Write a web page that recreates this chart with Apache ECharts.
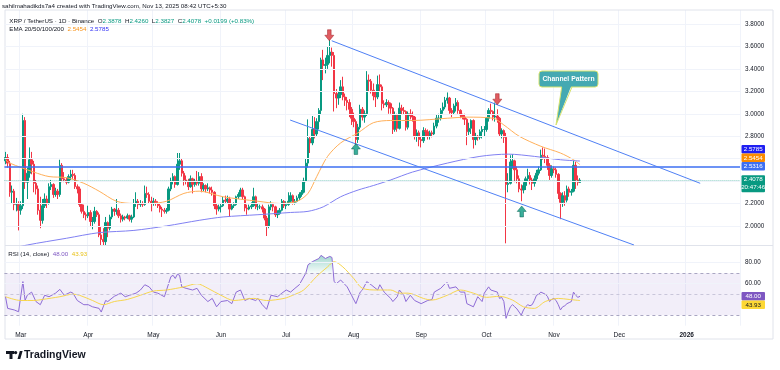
<!DOCTYPE html>
<html><head><meta charset="utf-8">
<script src="https://cdn.jsdelivr.net/npm/echarts@6/dist/echarts.min.js"></script>
<style>html,body{margin:0;padding:0;background:#fff}#c{width:780px;height:370px}</style>
</head><body><div id="c"></div>
<script>
// ---------------- DATA ----------------
const startDay = '2025-02-22';
const totalDays = 338; // visible time-axis slots (incl. empty future space)
const opens = [
2.58,2.61,2.56,2.30,2.31,2.19,2.19,2.14,2.18,2.94,
2.39,2.47,2.59,2.55,2.38,2.33,2.14,2.05,2.18,2.24,
2.20,2.35,2.37,2.28,2.31,2.28,2.54,2.42,2.41,2.39,
2.44,2.46,2.45,2.35,2.33,2.19,2.13,2.10,2.09,2.12,
2.04,2.04,2.13,2.10,1.92,1.88,1.86,2.03,1.98,2.08,
2.15,2.13,2.14,2.09,2.06,2.08,2.07,2.09,2.06,2.08,
2.20,2.22,2.19,2.20,2.19,2.29,2.28,2.22,2.20,2.22,
2.20,2.18,2.15,2.14,2.13,2.14,2.33,2.40,2.44,2.37,
2.55,2.58,2.47,2.41,2.40,2.35,2.42,2.37,2.40,2.38,
2.44,2.33,2.36,2.33,2.34,2.32,2.30,2.18,2.15,2.17,
2.18,2.23,2.22,2.24,2.15,2.18,2.19,2.26,2.28,2.32,
2.26,2.16,2.15,2.17,2.18,2.26,2.17,2.17,2.17,2.15,
2.07,2.00,2.17,2.19,2.17,2.10,2.11,2.14,2.22,2.18,
2.19,2.22,2.27,2.21,2.22,2.25,2.28,2.30,2.40,2.56,
2.78,2.74,2.86,2.82,2.93,3.03,3.48,3.43,3.44,3.52,
3.55,3.52,3.18,3.14,3.17,3.24,3.15,3.12,3.10,3.04,
2.96,2.93,2.77,2.88,3.04,2.97,3.00,3.30,3.29,3.21,
3.16,3.15,3.26,3.24,3.09,3.08,3.10,3.09,3.05,2.86,
2.99,2.87,3.05,3.03,3.02,2.88,3.00,2.98,2.97,2.80,
2.83,2.77,2.76,2.85,2.84,2.80,2.83,2.82,2.89,2.96,
2.96,3.03,3.06,3.12,3.14,3.03,3.01,3.07,3.10,3.03,
2.99,2.97,2.95,2.84,2.87,2.94,2.77,2.80,2.79,2.84,
2.86,2.86,2.96,3.03,3.02,2.97,2.98,2.96,2.82,2.85,
2.79,2.37,2.38,2.57,2.58,2.50,2.42,2.33,2.32,2.36,
2.42,2.45,2.41,2.38,2.42,2.47,2.50,2.63,2.62,2.61,
2.54,2.45,2.51,2.50,2.46,2.29,2.21,2.27,2.23,2.33,
2.30,2.31,2.54,2.41,2.3878];
const closes = [
2.61,2.56,2.30,2.31,2.19,2.19,2.14,2.18,2.94,2.39,
2.47,2.59,2.55,2.38,2.33,2.14,2.05,2.18,2.24,2.20,
2.35,2.37,2.28,2.31,2.28,2.54,2.42,2.41,2.39,2.44,
2.46,2.45,2.35,2.33,2.19,2.13,2.10,2.09,2.12,2.04,
2.04,2.13,2.10,1.92,1.88,1.86,2.03,1.98,2.08,2.15,
2.13,2.14,2.09,2.06,2.08,2.07,2.09,2.06,2.08,2.20,
2.22,2.19,2.20,2.19,2.29,2.28,2.22,2.20,2.22,2.20,
2.18,2.15,2.14,2.13,2.14,2.33,2.40,2.44,2.37,2.55,
2.58,2.47,2.41,2.40,2.35,2.42,2.37,2.40,2.38,2.44,
2.33,2.36,2.33,2.34,2.32,2.30,2.18,2.15,2.17,2.18,
2.23,2.22,2.24,2.15,2.18,2.19,2.26,2.28,2.32,2.26,
2.16,2.15,2.17,2.18,2.26,2.17,2.17,2.17,2.15,2.07,
2.00,2.17,2.19,2.17,2.10,2.11,2.14,2.22,2.18,2.19,
2.22,2.27,2.21,2.22,2.25,2.28,2.30,2.40,2.56,2.78,
2.74,2.86,2.82,2.93,3.03,3.48,3.43,3.44,3.52,3.55,
3.52,3.18,3.14,3.17,3.24,3.15,3.12,3.10,3.04,2.96,
2.93,2.77,2.88,3.04,2.97,3.00,3.30,3.29,3.21,3.16,
3.15,3.26,3.24,3.09,3.08,3.10,3.09,3.05,2.86,2.99,
2.87,3.05,3.03,3.02,2.88,3.00,2.98,2.97,2.80,2.83,
2.77,2.76,2.85,2.84,2.80,2.83,2.82,2.89,2.96,2.96,
3.03,3.06,3.12,3.14,3.03,3.01,3.07,3.10,3.03,2.99,
2.97,2.95,2.84,2.87,2.94,2.77,2.80,2.79,2.84,2.86,
2.86,2.96,3.03,3.02,2.97,2.98,2.96,2.82,2.85,2.79,
2.37,2.38,2.57,2.58,2.50,2.42,2.33,2.32,2.36,2.42,
2.45,2.41,2.38,2.42,2.47,2.50,2.63,2.62,2.61,2.54,
2.45,2.51,2.50,2.46,2.29,2.21,2.27,2.23,2.33,2.30,
2.31,2.54,2.41,2.3879,2.4078];
const highs = [
2.66,2.64,2.58,2.36,2.33,2.25,2.22,2.22,3.00,2.97,
2.52,2.70,2.66,2.58,2.41,2.36,2.26,2.24,2.29,2.27,
2.38,2.41,2.38,2.34,2.33,2.59,2.56,2.48,2.43,2.46,
2.50,2.50,2.47,2.37,2.35,2.20,2.19,2.12,2.18,2.14,
2.08,2.17,2.14,2.12,1.99,1.98,2.08,2.04,2.10,2.17,
2.16,2.24,2.16,2.11,2.10,2.09,2.11,2.10,2.10,2.24,
2.30,2.24,2.23,2.22,2.36,2.35,2.30,2.26,2.25,2.24,
2.22,2.20,2.17,2.16,2.16,2.35,2.43,2.47,2.45,2.65,
2.65,2.60,2.49,2.45,2.42,2.45,2.43,2.42,2.49,2.48,
2.47,2.38,2.37,2.38,2.35,2.35,2.31,2.20,2.19,2.20,
2.26,2.27,2.27,2.26,2.20,2.21,2.27,2.30,2.34,2.34,
2.27,2.19,2.19,2.21,2.34,2.27,2.20,2.19,2.19,2.16,
2.09,2.19,2.22,2.20,2.18,2.14,2.16,2.24,2.23,2.22,
2.30,2.30,2.28,2.24,2.27,2.30,2.32,2.43,2.60,2.95,
2.80,2.98,2.97,2.96,3.05,3.50,3.57,3.50,3.60,3.66,
3.59,3.55,3.22,3.20,3.30,3.33,3.18,3.15,3.13,3.06,
3.01,2.95,2.91,3.08,3.06,3.03,3.38,3.35,3.31,3.27,
3.20,3.34,3.35,3.26,3.12,3.13,3.12,3.10,3.06,3.02,
3.00,3.10,3.08,3.06,3.03,3.02,3.04,3.02,2.98,2.86,
2.85,2.80,2.88,2.87,2.86,2.85,2.85,2.92,2.99,3.00,
3.05,3.10,3.15,3.19,3.15,3.05,3.09,3.14,3.12,3.04,
3.00,3.00,2.96,2.92,2.95,2.95,2.83,2.81,2.86,2.89,
2.89,2.97,3.05,3.09,3.03,3.10,3.04,2.97,2.87,2.86,
2.83,2.47,2.63,2.64,2.59,2.53,2.45,2.37,2.39,2.44,
2.51,2.48,2.43,2.45,2.50,2.53,2.68,2.70,2.69,2.63,
2.56,2.54,2.53,2.52,2.47,2.30,2.30,2.31,2.36,2.35,
2.33,2.58,2.57,2.45,2.4260];
const lows = [
2.55,2.52,2.26,2.20,2.14,2.13,1.96,2.10,2.15,2.33,
2.24,2.43,2.46,2.30,2.28,2.10,1.98,2.02,2.16,2.16,
2.19,2.32,2.25,2.26,2.24,2.26,2.39,2.39,2.37,2.38,
2.41,2.42,2.33,2.29,2.17,2.11,2.07,2.05,2.07,1.99,
1.97,2.02,2.08,1.90,1.83,1.83,1.83,1.90,1.96,2.06,
2.09,2.10,2.07,2.03,2.04,2.05,2.06,2.04,2.03,2.07,
2.17,2.15,2.17,2.17,2.18,2.25,2.20,2.13,2.18,2.18,
2.16,2.12,2.08,2.11,2.11,2.13,2.31,2.37,2.34,2.36,
2.50,2.44,2.36,2.37,2.32,2.34,2.29,2.35,2.36,2.36,
2.30,2.31,2.30,2.31,2.29,2.27,2.15,2.10,2.13,2.12,
2.17,2.20,2.20,2.08,2.14,2.16,2.18,2.24,2.26,2.24,
2.13,2.10,2.14,2.15,2.17,2.15,2.14,2.15,2.12,2.05,
1.91,1.98,2.14,2.13,2.08,2.07,2.10,2.13,2.16,2.15,
2.18,2.20,2.19,2.19,2.21,2.23,2.26,2.29,2.39,2.52,
2.65,2.72,2.78,2.80,2.86,2.99,3.30,3.36,3.40,3.45,
3.42,3.02,3.05,3.08,3.14,3.12,3.07,3.03,2.97,2.90,
2.88,2.72,2.74,2.86,2.94,2.92,2.98,3.20,3.18,3.12,
3.06,3.13,3.20,3.03,3.05,3.06,3.00,3.00,2.82,2.84,
2.84,2.86,2.99,2.99,2.85,2.86,2.95,2.93,2.77,2.75,
2.71,2.70,2.74,2.80,2.77,2.77,2.79,2.81,2.87,2.92,
2.94,3.00,3.04,3.09,3.00,2.97,2.99,3.02,3.00,2.96,
2.95,2.90,2.72,2.81,2.82,2.69,2.72,2.76,2.77,2.78,
2.80,2.84,2.93,2.99,2.94,2.93,2.92,2.80,2.78,2.74,
1.845,2.30,2.37,2.51,2.39,2.38,2.30,2.22,2.29,2.32,
2.40,2.37,2.32,2.35,2.40,2.45,2.49,2.59,2.56,2.50,
2.41,2.43,2.47,2.43,2.24,2.06,2.17,2.18,2.21,2.26,
2.27,2.30,2.33,2.36,2.3827];

const ema50 = [['2025-02-22',2.59],['2025-02-24',2.56],['2025-03-07',2.48],['2025-03-14',2.44],['2025-03-22',2.43],['2025-03-30',2.38],['2025-04-06',2.31],['2025-04-14',2.22],['2025-04-22',2.20],['2025-04-29',2.20],['2025-05-07',2.22],['2025-05-15',2.29],['2025-05-22',2.31],['2025-06-02',2.26],['2025-06-18',2.22],['2025-06-28',2.20],['2025-07-06',2.22],['2025-07-11',2.29],['2025-07-15',2.44],['2025-07-20',2.62],['2025-07-26',2.74],['2025-08-03',2.83],['2025-08-10',2.92],['2025-08-18',2.94],['2025-08-28',2.94],['2025-09-13',2.96],['2025-09-22',2.97],['2025-10-04',2.96],['2025-10-09',2.90],['2025-10-16',2.80],['2025-10-26',2.71],['2025-11-04',2.65],['2025-11-10',2.59],['2025-11-13',2.5454]];
const ema200 = [['2025-02-22',1.785],['2025-03-04',1.83],['2025-03-22',1.89],['2025-04-06',1.94],['2025-04-22',1.96],['2025-05-07',2.00],['2025-05-22',2.05],['2025-06-02',2.08],['2025-06-18',2.10],['2025-07-03',2.12],['2025-07-11',2.13],['2025-07-18',2.17],['2025-07-26',2.26],['2025-08-03',2.32],['2025-08-10',2.36],['2025-08-18',2.41],['2025-08-28',2.48],['2025-09-13',2.56],['2025-09-28',2.62],['2025-10-11',2.64],['2025-10-23',2.62],['2025-11-04',2.59],['2025-11-13',2.5785]];

const rsi = [['2025-02-22',47.6],['2025-02-23',36.5],['2025-02-26',35],['2025-02-28',33.3],['2025-03-02',62],['2025-03-03',44],['2025-03-04',49],['2025-03-06',52],['2025-03-08',43],['2025-03-10',40],['2025-03-12',49],['2025-03-14',47.6],['2025-03-17',51],['2025-03-19',54.6],['2025-03-21',49],['2025-03-24',52],['2025-03-25',51],['2025-03-27',44],['2025-03-30',40],['2025-04-01',40],['2025-04-03',38],['2025-04-06',36.5],['2025-04-07',33],['2025-04-09',44],['2025-04-10',43],['2025-04-13',48],['2025-04-16',51],['2025-04-18',47.6],['2025-04-20',49],['2025-04-23',51],['2025-04-25',54],['2025-04-27',59],['2025-04-29',57],['2025-05-01',52],['2025-05-03',51],['2025-05-06',47.6],['2025-05-07',54],['2025-05-09',66.7],['2025-05-10',68],['2025-05-11',65],['2025-05-12',69],['2025-05-13',68],['2025-05-14',57],['2025-05-16',55.6],['2025-05-19',54],['2025-05-21',55.6],['2025-05-23',49],['2025-05-26',43],['2025-05-28',46],['2025-05-30',38],['2025-06-01',43],['2025-06-04',44],['2025-06-06',41],['2025-06-08',52],['2025-06-10',54],['2025-06-12',44],['2025-06-14',46],['2025-06-17',44],['2025-06-18',46],['2025-06-20',40],['2025-06-22',35.6],['2025-06-24',49],['2025-06-27',47.6],['2025-06-29',51],['2025-07-01',54],['2025-07-03',52],['2025-07-05',55.6],['2025-07-07',59],['2025-07-10',70],['2025-07-11',78],['2025-07-13',81],['2025-07-16',84],['2025-07-17',87],['2025-07-19',84],['2025-07-21',86],['2025-07-22',85],['2025-07-23',62],['2025-07-24',60],['2025-07-26',63.5],['2025-07-29',57],['2025-07-31',49],['2025-08-02',41],['2025-08-04',52],['2025-08-05',54],['2025-08-07',62],['2025-08-09',59],['2025-08-12',54],['2025-08-13',59],['2025-08-15',52],['2025-08-18',46],['2025-08-19',43],['2025-08-21',47.6],['2025-08-22',54],['2025-08-24',49],['2025-08-25',43],['2025-08-27',49],['2025-08-29',44],['2025-09-01',41],['2025-09-04',44],['2025-09-06',45],['2025-09-07',52],['2025-09-10',55.6],['2025-09-12',60],['2025-09-13',61],['2025-09-14',55.6],['2025-09-17',57],['2025-09-19',52],['2025-09-21',52],['2025-09-22',41],['2025-09-25',38],['2025-09-27',47.6],['2025-09-29',43],['2025-09-30',51],['2025-10-02',57],['2025-10-03',54],['2025-10-06',52],['2025-10-07',46],['2025-10-08',47],['2025-10-09',43],['2025-10-10',27],['2025-10-11',33],['2025-10-12',38],['2025-10-13',40],['2025-10-14',38],['2025-10-15',36],['2025-10-16',33],['2025-10-17',30],['2025-10-18',35],['2025-10-19',38],['2025-10-20',40],['2025-10-21',39],['2025-10-22',40],['2025-10-23',44],['2025-10-24',49],['2025-10-25',50],['2025-10-26',52],['2025-10-27',51],['2025-10-28',50],['2025-10-29',48],['2025-10-30',43],['2025-10-31',45],['2025-11-01',46],['2025-11-02',44],['2025-11-03',40],['2025-11-04',35],['2025-11-05',38],['2025-11-06',39],['2025-11-07',41],['2025-11-08',42],['2025-11-09',43],['2025-11-10',52],['2025-11-11',49],['2025-11-12',47],['2025-11-13',48]];
const rsiMA = [['2025-02-22',47.6],['2025-03-01',44],['2025-03-07',44],['2025-03-11',45],['2025-03-19',47.6],['2025-03-25',50],['2025-03-28',49],['2025-04-03',44],['2025-04-08',40],['2025-04-13',43],['2025-04-19',45],['2025-04-25',49],['2025-05-01',53],['2025-05-07',54],['2025-05-15',57],['2025-05-21',60],['2025-05-26',55.6],['2025-06-01',49],['2025-06-07',44],['2025-06-16',46],['2025-06-22',44],['2025-06-30',46],['2025-07-04',49],['2025-07-09',54],['2025-07-15',67],['2025-07-20',76],['2025-07-23',81],['2025-07-27',76],['2025-08-01',65],['2025-08-05',55.6],['2025-08-12',54],['2025-08-18',54],['2025-08-22',51],['2025-08-26',51],['2025-09-02',46],['2025-09-06',44.4],['2025-09-13',49],['2025-09-19',54],['2025-09-25',51],['2025-10-01',47],['2025-10-07',48],['2025-10-13',44.4],['2025-10-18',38],['2025-10-23',36.5],['2025-10-28',43],['2025-11-03',46],['2025-11-08',45],['2025-11-13',43.93]];

const priceTicks = [2.0,2.2,2.4,2.6,2.8,3.0,3.2,3.4,3.6,3.8];
const rsiTicks = [80,60];
const levelPrice = 2.5316;
const lastClose = 2.4078;
const ema50Last = 2.5454, ema200Last = 2.5785;
const rsiLast = 48.00, rsiMALast = 43.93;
// channel trend lines: [day index from startDay, price]
const channelUpper = [[149.9,3.651],[319.2,2.380]];
const channelLower = [[130.8,2.944],[288.8,1.830]];
const arrowsDown = [[148.8,3.70],[226.0,3.13]];
const arrowsUp = [[161.0,2.686],[237.2,2.129]];
const monthNames = ['Jan','Feb','Mar','Apr','May','Jun','Jul','Aug','Sep','Oct','Nov','Dec'];

// ---------------- BUILD ----------------
const FF = '"Liberation Sans", Arial, sans-serif';
const catDates = [];
(function(){ const t0 = Date.parse(startDay+'T00:00:00Z'); for (let i=0;i<totalDays;i++) catDates.push(new Date(t0+i*864e5).toISOString().slice(0,10)); })();
const candleData = opens.map((o,i)=>[o, closes[i], lows[i], highs[i]]);
const isMonthStart = (i, v) => typeof v === 'string' && v.slice(8) === '01';
const UP='#089981', DN='#F23645';

const chart = echarts.init(document.getElementById('c'));
const gridL = 4.4, gridW = 735.6;
chart.setOption({
  animation:false,
  backgroundColor:'#ffffff',
  textStyle:{fontFamily:FF},
  grid:[{left:gridL, top:10, width:gridW, height:235},{left:gridL, top:245.9, width:gridW, height:79.8}],
  xAxis:[
    {type:'category', gridIndex:0, data:catDates, boundaryGap:true, axisLine:{show:false}, axisTick:{show:false}, axisLabel:{show:false},
     splitLine:{show:true, interval:isMonthStart, lineStyle:{color:'#F0F3FA', width:1}}},
    {type:'category', gridIndex:1, data:catDates, boundaryGap:true, axisLine:{show:false}, axisTick:{show:false},
     axisLabel:{show:true, interval:isMonthStart, margin:6, fontSize:6.5, color:'#131722', hideOverlap:false,
       formatter:(v)=>{const m=+v.slice(5,7); return m===1?'{y|'+v.slice(0,4)+'}':monthNames[m-1];},
       rich:{y:{fontWeight:'bold', fontSize:6.5, color:'#131722'}}},
     splitLine:{show:true, interval:isMonthStart, lineStyle:{color:'#F0F3FA', width:1}}},
    {type:'value', gridIndex:0, min:-0.5, max:totalDays-0.5, show:false}
  ],
  yAxis:[
    {type:'value', gridIndex:0, position:'right', min:1.83, max:3.925,
     axisLine:{show:false}, axisTick:{show:false}, splitLine:{show:false},
     axisLabel:{customValues:priceTicks, formatter:(v)=>v.toFixed(4), margin:5, fontSize:6.3, color:'#131722'}},
    {type:'value', gridIndex:1, position:'right', min:20, max:96,
     axisLine:{show:false}, axisTick:{show:false}, splitLine:{show:false},
     axisLabel:{customValues:rsiTicks, formatter:(v)=>v.toFixed(2), margin:5, fontSize:6.3, color:'#131722'}}
  ],
  series:[
    {type:'line', name:'priceGrid', xAxisIndex:0, yAxisIndex:0, data:[], z:0, silent:true,
     markLine:{symbol:'none', silent:true, label:{show:false}, animation:false,
       data:priceTicks.map(v=>({yAxis:v, lineStyle:{color:'#F0F3FA', width:1, type:'solid'}}))}},
    {type:'candlestick', name:'XRP', xAxisIndex:0, yAxisIndex:0, data:candleData, barWidth:2, z:3,
     itemStyle:{color:UP, color0:DN, borderColor:UP, borderColor0:DN, borderWidth:1},
     markLine:{symbol:'none', silent:true, label:{show:false}, animation:false,
       data:[{yAxis:lastClose, lineStyle:{color:UP, width:1, type:'dotted', opacity:0.45}}]}},
    {type:'line', name:'EMA50', xAxisIndex:0, yAxisIndex:0, data:ema50, showSymbol:false, smooth:0.3, z:4,
     lineStyle:{color:'#FFB05A', width:1}},
    {type:'line', name:'EMA200', xAxisIndex:0, yAxisIndex:0, data:ema200, showSymbol:false, smooth:0.3, z:4,
     lineStyle:{color:'#8080F2', width:1}},
    {type:'line', name:'level', xAxisIndex:2, yAxisIndex:0, data:[], z:5,
     markLine:{symbol:'none', silent:true, label:{show:false}, animation:false,
       data:[{yAxis:levelPrice, lineStyle:{color:'#3D6FF2', width:1.5, type:'solid'}}]}},
    {type:'line', name:'channelUpper', xAxisIndex:2, yAxisIndex:0, data:channelUpper, showSymbol:false, z:5,
     lineStyle:{color:'#4F80F5', width:1}},
    {type:'line', name:'channelLower', xAxisIndex:2, yAxisIndex:0, data:channelLower, showSymbol:false, z:5,
     lineStyle:{color:'#4F80F5', width:1}},
    {type:'scatter', name:'down', xAxisIndex:2, yAxisIndex:0, data:arrowsDown, z:6,
     symbol:'path://M3,0L7,0L7,5.5L10,5.5L5,11L0,5.5L3,5.5Z', symbolSize:[9,11],
     itemStyle:{color:'#D8333A', borderColor:'#9C1A20', borderWidth:0.6}},
    {type:'scatter', name:'up', xAxisIndex:2, yAxisIndex:0, data:arrowsUp, z:6,
     symbol:'path://M5,0L10,5.5L7,5.5L7,11L3,11L3,5.5L0,5.5Z', symbolSize:[9,11],
     itemStyle:{color:'#089981', borderColor:'#04614F', borderWidth:0.6}},
    {type:'line', name:'RSI', xAxisIndex:1, yAxisIndex:1, data:rsi, showSymbol:false, z:4,
     lineStyle:{color:'#8E6CD6', width:1},
     markArea:{silent:true, itemStyle:{color:'rgba(126,87,194,0.1)'}, data:[[{yAxis:30},{yAxis:70}]]},
     markLine:{symbol:'none', silent:true, label:{show:false}, animation:false, data:[
       {yAxis:80, lineStyle:{color:'#F0F3FA', width:1, type:'solid'}},
       {yAxis:60, lineStyle:{color:'#F0F3FA', width:1, type:'solid'}},
       {yAxis:70, lineStyle:{color:'#A9A6C2', width:1, type:[3,3]}},
       {yAxis:50, lineStyle:{color:'#C9C6DA', width:1, type:[3,3]}},
       {yAxis:30, lineStyle:{color:'#A9A6C2', width:1, type:[3,3]}}]}},
    {type:'line', name:'RSIover', xAxisIndex:1, yAxisIndex:1, data:rsi.filter(p=>p[1]>=70), showSymbol:false, z:3,
     lineStyle:{width:0},
     areaStyle:{origin:70, color:new echarts.graphic.LinearGradient(0,0,0,1,[{offset:0,color:'rgba(8,153,129,0.55)'},{offset:1,color:'rgba(8,153,129,0.04)'}])}},
    {type:'line', name:'RSI MA', xAxisIndex:1, yAxisIndex:1, data:rsiMA, showSymbol:false, smooth:0.3, z:4,
     lineStyle:{color:'#F7D64E', width:1}}
  ]
});

// ---------------- ANNOTATIONS ----------------
function txt(x, y, text, st){ return {type:'text', x:x, y:y, silent:true, z:100,
  style:Object.assign({text:text, fill:'#131722', fontSize:6.3, fontFamily:FF, align:'left', verticalAlign:'middle'}, st||{})}; }
function tag(yc, h, bg, lines, fg){
  const out = [{type:'rect', silent:true, z:100, shape:{x:741.5, y:yc-h/2, width:23.5, height:h, r:1}, style:{fill:bg}}];
  lines.forEach((t,k)=>{ out.push(txt(753.2, yc - (lines.length-1)*4 + k*8, t, {fill:fg||'#fff', align:'center', fontSize:6.2})); });
  return out;
}
const py = v => chart.convertToPixel({yAxisIndex:0}, v);
const ry = v => chart.convertToPixel({yAxisIndex:1}, v);
const g = [];
// frame & separators
g.push({type:'rect', silent:true, z:1, shape:{x:5, y:10, width:768, height:329}, style:{fill:'none', stroke:'#E0E3EB', lineWidth:1}});
g.push({type:'line', silent:true, z:1, shape:{x1:5, y1:245.5, x2:773, y2:245.5}, style:{stroke:'#E0E3EB', lineWidth:1}});
// header
g.push(txt(2, 6.5, 'sahilmahadikds7a4 created with TradingView.com, Nov 13, 2025 08:42 UTC+5:30', {fontSize:6.2}));
g.push(txt(9.3, 21.7, '{k|XRP / TetherUS · 1D · Binance}  {k|O}{g|2.3878}  {k|H}{g|2.4260}  {k|L}{g|2.3827}  {k|C}{g|2.4078}  {g|+0.0199 (+0.83%)}',
  {rich:{k:{fill:'#131722', fontSize:6.2, fontFamily:FF}, g:{fill:UP, fontSize:6.2, fontFamily:FF}}}));
g.push(txt(9.3, 29.5, '{k|EMA 20/50/100/200}  {o|'+ema50Last.toFixed(4)+'}  {b|'+ema200Last.toFixed(4)+'}',
  {rich:{k:{fill:'#131722', fontSize:6.2, fontFamily:FF}, o:{fill:'#F7931A', fontSize:6.2, fontFamily:FF}, b:{fill:'#2F2FF5', fontSize:6.2, fontFamily:FF}}}));
g.push(txt(8.3, 254, '{k|RSI (14, close)}  {p|'+rsiLast.toFixed(2)+'}  {y|'+rsiMALast.toFixed(2)+'}',
  {rich:{k:{fill:'#131722', fontSize:6.2, fontFamily:FF}, p:{fill:'#7E57C2', fontSize:6.2, fontFamily:FF}, y:{fill:'#E8C21A', fontSize:6.2, fontFamily:FF}}}));
// price tags (stacked like TradingView)
const yLevel = py(levelPrice);
g.push(...tag(yLevel - 17, 8.5, '#1F1FF2', [ema200Last.toFixed(4)]));
g.push(...tag(yLevel - 8.5, 8.5, '#FB8C00', [ema50Last.toFixed(4)]));
g.push(...tag(yLevel, 8.5, '#3D6FF2', [levelPrice.toFixed(4)]));
g.push(...tag(py(lastClose) + 3.5, 17, UP, [lastClose.toFixed(4), '20:47:46']));
const yR = ry(rsiLast);
g.push(...tag(yR, 8.5, '#7E57C2', [rsiLast.toFixed(2)]));
g.push(...tag(yR + 8.5, 8.5, '#FDD835', [rsiMALast.toFixed(2)], '#131722'));
// callout "Channel Pattern"
const teal = '#45A9B2', lime = '#D7E36E';
g.push({type:'rect', silent:true, z:90, shape:{x:539, y:71, width:59, height:16, r:3}, style:{fill:teal, stroke:lime, lineWidth:1}});
g.push({type:'polygon', silent:true, z:91, shape:{points:[[562,85],[571.6,85],[556,125]]}, style:{fill:teal}});
g.push({type:'polyline', silent:true, z:92, shape:{points:[[561.7,87],[556,125],[572,87]]}, style:{stroke:lime, lineWidth:1, fill:'none'}});
g.push(txt(568.5, 79, 'Channel Pattern', {fill:'#ffffff', fontWeight:'bold', fontSize:6.8, align:'center'}));
// TradingView logo
g.push({type:'rect', silent:true, z:100, shape:{x:6, y:351, width:8, height:3}, style:{fill:'#131722'}});
g.push({type:'rect', silent:true, z:100, shape:{x:9.5, y:351, width:3, height:8}, style:{fill:'#131722'}});
g.push({type:'circle', silent:true, z:100, shape:{cx:15.6, cy:352.6, r:1.7}, style:{fill:'#131722'}});
g.push({type:'polygon', silent:true, z:100, shape:{points:[[17.5,359],[19.8,351],[22.6,351],[20.3,359]]}, style:{fill:'#131722'}});
g.push(txt(24, 355.3, 'TradingView', {fontSize:10.5, fontWeight:'bold', fill:'#131722'}));
chart.setOption({graphic:g});
</script></body></html>
